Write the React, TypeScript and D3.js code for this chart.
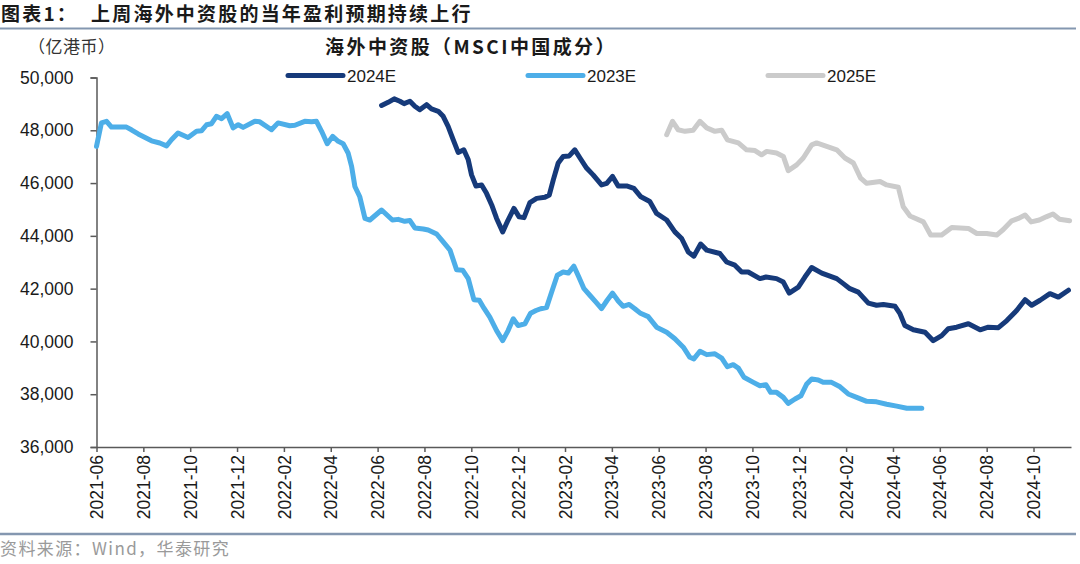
import React, { useEffect, useRef } from "react";
import * as d3 from "d3";

// x values are months since 2021-06 (0 = 2021-06-01)
const tickLabels = [
  "2021-06", "2021-08", "2021-10", "2021-12", "2022-02", "2022-04", "2022-06",
  "2022-08", "2022-10", "2022-12", "2023-02", "2023-04", "2023-06", "2023-08",
  "2023-10", "2023-12", "2024-02", "2024-04", "2024-06", "2024-08", "2024-10",
];
const yTicks = [36000, 38000, 40000, 42000, 44000, 46000, 48000, 50000];

const series2023E: [number, number][] = [
  [0.0, 47390], [0.21, 48280], [0.43, 48340], [0.64, 48120], [1.28, 48120], [1.49, 48020],
  [1.78, 47860], [2.35, 47600], [2.7, 47520], [2.99, 47410], [3.2, 47640], [3.48, 47900],
  [3.91, 47730], [4.27, 47960], [4.48, 47980], [4.7, 48210], [4.91, 48250], [5.12, 48530],
  [5.34, 48440], [5.58, 48630], [5.83, 48090], [6.05, 48210], [6.26, 48110], [6.76, 48340],
  [6.97, 48320], [7.47, 48020], [7.75, 48280], [8.25, 48170], [8.47, 48190], [8.89, 48340],
  [9.18, 48320], [9.39, 48340], [9.61, 47960], [9.85, 47490], [10.08, 47770], [10.32, 47580],
  [10.53, 47490], [10.74, 47140], [10.89, 46630], [11.03, 45870], [11.24, 45480], [11.46, 44660],
  [11.67, 44600], [12.17, 44980], [12.63, 44600], [12.88, 44625], [13.16, 44550], [13.38, 44580],
  [13.59, 44300], [13.95, 44260], [14.16, 44220], [14.52, 44070], [14.8, 43770], [15.09, 43460],
  [15.37, 42720], [15.63, 42700], [15.87, 42380], [16.11, 41580], [16.34, 41560], [16.54, 41260],
  [16.79, 40920], [17.08, 40410], [17.34, 40030], [17.57, 40410], [17.79, 40860], [18.0, 40600],
  [18.29, 40670], [18.53, 41070], [18.76, 41170], [18.96, 41240], [19.21, 41280], [19.43, 41870],
  [19.67, 42510], [19.92, 42630], [20.14, 42590], [20.38, 42850], [20.59, 42440], [20.81, 42000],
  [21.06, 41750], [21.32, 41490], [21.56, 41240], [21.8, 41560], [22.03, 41830], [22.27, 41530],
  [22.48, 41330], [22.74, 41400], [22.98, 41240], [23.2, 41080], [23.55, 40940], [23.91, 40540],
  [24.34, 40350], [24.69, 40100], [25.05, 39780], [25.33, 39400], [25.5, 39340], [25.76, 39630],
  [26.05, 39500], [26.4, 39530], [26.69, 39370], [26.93, 39040], [27.18, 39120], [27.4, 38990],
  [27.64, 38640], [28.04, 38450], [28.32, 38320], [28.58, 38360], [28.78, 38070], [29.03, 38070],
  [29.32, 37880], [29.53, 37650], [29.82, 37820], [30.07, 37940], [30.32, 38390], [30.53, 38580],
  [30.81, 38540], [31.02, 38450], [31.38, 38450], [31.74, 38280], [32.09, 38010], [32.45, 37880],
  [32.88, 37730], [33.3, 37710], [33.73, 37620], [34.16, 37550], [34.59, 37470], [35.23, 37470],
];

const series2024E: [number, number][] = [
  [12.17, 48940], [12.45, 49060], [12.71, 49190], [12.95, 49100], [13.13, 49010], [13.38, 49100],
  [13.59, 48910], [13.8, 48780], [14.09, 48970], [14.3, 48810], [14.59, 48720], [14.8, 48530],
  [15.01, 48150], [15.23, 47640], [15.44, 47160], [15.68, 47260], [15.87, 46880], [16.01, 46310],
  [16.2, 45890], [16.44, 45930], [16.65, 45610], [16.87, 45170], [17.08, 44660], [17.34, 44150],
  [17.57, 44600], [17.82, 45040], [18.04, 44720], [18.25, 44690], [18.5, 45260], [18.79, 45420],
  [19.14, 45460], [19.33, 45550], [19.5, 46120], [19.71, 46760], [19.92, 47010], [20.18, 47030],
  [20.42, 47260], [20.64, 46950], [20.92, 46570], [21.2, 46310], [21.56, 45930], [21.78, 45990],
  [22.03, 46250], [22.27, 45890], [22.63, 45890], [22.94, 45800], [23.24, 45480], [23.62, 45300],
  [23.91, 44850], [24.34, 44600], [24.69, 44150], [24.98, 43900], [25.26, 43390], [25.5, 43230],
  [25.79, 43690], [26.05, 43460], [26.61, 43330], [26.9, 43010], [27.25, 42890], [27.54, 42630],
  [27.82, 42630], [28.32, 42380], [28.58, 42440], [29.03, 42380], [29.32, 42250], [29.57, 41830],
  [29.96, 42060], [30.24, 42440], [30.53, 42800], [30.96, 42590], [31.6, 42380], [31.88, 42190],
  [32.16, 42000], [32.52, 41870], [32.95, 41450], [33.3, 41370], [33.59, 41400], [34.09, 41330],
  [34.3, 41050], [34.51, 40600], [34.87, 40440], [35.37, 40350], [35.72, 40030], [36.08, 40220],
  [36.36, 40480], [36.72, 40540], [37.22, 40670], [37.72, 40440], [38.07, 40540], [38.5, 40520],
  [38.86, 40790], [39.28, 41170], [39.64, 41580], [39.92, 41370], [40.28, 41560], [40.7, 41810],
  [41.06, 41680], [41.49, 41940],
];

const series2025E: [number, number][] = [
  [24.34, 47830], [24.59, 48340], [24.83, 48020], [25.12, 47960], [25.47, 48000], [25.76, 48340],
  [26.05, 48090], [26.4, 47960], [26.69, 48000], [26.93, 47640], [27.4, 47520], [27.75, 47260],
  [28.11, 47230], [28.39, 47070], [28.61, 47200], [29.03, 47140], [29.32, 47010], [29.53, 46470],
  [29.89, 46690], [30.17, 46950], [30.53, 47450], [30.74, 47520], [31.17, 47390], [31.6, 47260],
  [31.95, 46950], [32.31, 46760], [32.62, 46190], [32.88, 45990], [33.45, 46060], [33.73, 45930],
  [34.23, 45840], [34.44, 45100], [34.73, 44750], [35.3, 44530], [35.61, 44030], [36.08, 44030],
  [36.51, 44320], [37.22, 44280], [37.58, 44090], [38.0, 44090], [38.43, 44030], [38.71, 44240],
  [39.07, 44570], [39.35, 44660], [39.64, 44790], [39.9, 44530], [40.25, 44600], [40.54, 44720],
  [40.83, 44830], [41.11, 44630], [41.54, 44570],
];

const seriesList = [
  { name: "2025E", data: series2025E, color: "#cbcbcb" },
  { name: "2023E", data: series2023E, color: "#4daee8" },
  { name: "2024E", data: series2024E, color: "#163a7a" },
];

const legendItems = [
  { name: "2024E", color: "#163a7a" },
  { name: "2023E", color: "#4daee8" },
  { name: "2025E", color: "#cbcbcb" },
];

const W = 1080;
const H = 564;

export default function App() {
  const ref = useRef<SVGSVGElement>(null);

  useEffect(() => {
    const svg = d3.select(ref.current);
    svg.selectAll("*").remove();

    const x = d3.scaleLinear().domain([0, 41.6]).range([96.5, 1071]);
    const y = d3.scaleLinear().domain([36000, 50000]).range([447, 77.5]);
    const font = "Arial, 'Liberation Sans', sans-serif";
    const cjk = "'Noto Sans CJK SC', sans-serif";

    svg.append("rect").attr("width", W).attr("height", H).attr("fill", "#ffffff");

    // header
    svg.append("text")
      .attr("x", 1).attr("y", 21)
      .attr("font-family", cjk).attr("font-weight", 700)
      .attr("font-size", 19).attr("letter-spacing", 2.2).attr("fill", "#1a1a1a")
      .style("white-space", "pre")
      .text("图表1：  上周海外中资股的当年盈利预期持续上行");
    svg.append("line").attr("x1", 0).attr("x2", 1076).attr("y1", 28.5).attr("y2", 28.5)
      .attr("stroke", "#8497b0").attr("stroke-width", 2);
    svg.append("line").attr("x1", 0).attr("x2", 1076).attr("y1", 534).attr("y2", 534)
      .attr("stroke", "#8497b0").attr("stroke-width", 2.5);

    svg.append("text")
      .attr("x", 0).attr("y", 555)
      .attr("font-family", cjk).attr("font-size", 17).attr("letter-spacing", 1.4)
      .attr("fill", "#9a9a9a")
      .text("资料来源：Wind，华泰研究");

    // unit
    svg.append("text")
      .attr("x", 28).attr("y", 53)
      .attr("font-family", cjk).attr("font-size", 17).attr("letter-spacing", 0.5).attr("fill", "#333")
      .text("（亿港币）");

    // chart title
    svg.append("text")
      .attr("x", 471).attr("y", 54).attr("text-anchor", "middle")
      .attr("font-family", cjk).attr("font-weight", 700).attr("font-size", 19)
      .attr("letter-spacing", 2.4).attr("fill", "#1a1a1a")
      .text("海外中资股（MSCI中国成分）");

    // legend
    const legX = [288, 528, 768];
    legendItems.forEach((it, i) => {
      const g = svg.append("g");
      g.append("line").attr("x1", legX[i]).attr("x2", legX[i] + 55)
        .attr("y1", 75.5).attr("y2", 75.5)
        .attr("stroke", it.color).attr("stroke-width", 5).attr("stroke-linecap", "round");
      g.append("text").attr("x", legX[i] + 59).attr("y", 81.5)
        .attr("font-family", font).attr("font-size", 17).attr("fill", "#1a1a1a")
        .text(it.name);
    });

    // y axis
    const yAxis = d3.axisLeft(y).tickValues(yTicks).tickSize(6).tickPadding(17)
      .tickFormat((d) => d3.format(",")(d as number));
    const gy = svg.append("g").attr("transform", `translate(${x(0)},0)`).call(yAxis);
    gy.select(".domain").attr("stroke", "#595959").attr("stroke-width", 1.5);
    gy.selectAll(".tick line").attr("stroke", "#595959").attr("stroke-width", 1.5);
    gy.selectAll(".tick text").attr("font-family", font).attr("font-size", 17.5).attr("fill", "#1a1a1a");

    // x axis
    const xTickVals = tickLabels.map((_, i) => i * 2);
    const xAxis = d3.axisBottom(x).tickValues(xTickVals).tickSize(5).tickSizeOuter(0)
      .tickFormat((_, i) => tickLabels[i]);
    const gx = svg.append("g").attr("transform", `translate(0,${y(36000)})`).call(xAxis);
    gx.select(".domain").attr("stroke", "#595959").attr("stroke-width", 1.5);
    gx.selectAll(".tick line").attr("stroke", "#595959").attr("stroke-width", 1.5);
    gx.selectAll(".tick text")
      .attr("font-family", font).attr("font-size", 17.5).attr("fill", "#1a1a1a")
      .attr("text-anchor", "end")
      .attr("transform", "rotate(-90)")
      .attr("x", -8).attr("y", 0).attr("dy", "0.35em");

    // lines
    const line = d3.line<[number, number]>().x((d) => x(d[0])).y((d) => y(d[1]));
    seriesList.forEach((s) => {
      svg.append("path").datum(s.data).attr("d", line)
        .attr("fill", "none").attr("stroke", s.color).attr("stroke-width", 5)
        .attr("stroke-linejoin", "round").attr("stroke-linecap", "round");
    });
  }, []);

  return (
    <svg ref={ref} width={W} height={H}
      style={{ position: "absolute", left: 0, top: 0, display: "block" }} />
  );
}
